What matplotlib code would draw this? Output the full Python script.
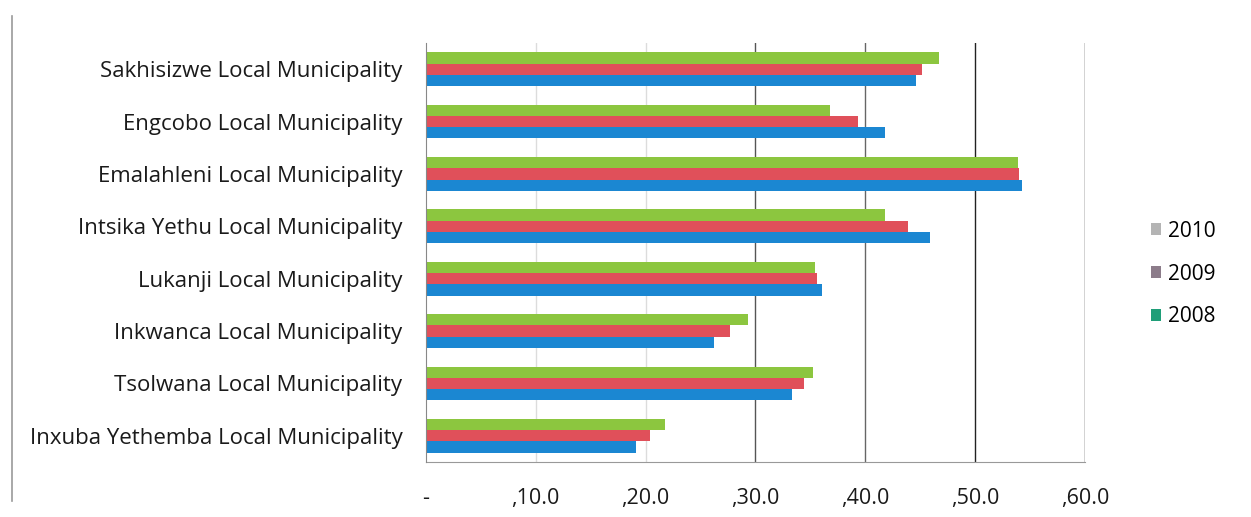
import matplotlib
matplotlib.use("Agg")
import matplotlib.pyplot as plt
from matplotlib.patches import Patch
from matplotlib.lines import Line2D
import numpy as np

municipalities = [
    "Sakhisizwe Local Municipality",
    "Engcobo Local Municipality",
    "Emalahleni Local Municipality",
    "Intsika Yethu Local Municipality",
    "Lukanji Local Municipality",
    "Inkwanca Local Municipality",
    "Tsolwana Local Municipality",
    "Inxuba Yethemba Local Municipality",
]
values_2010 = [46.7, 36.8, 53.9, 41.8, 35.4, 29.3, 35.2, 21.8]
values_2009 = [45.2, 39.3, 54.0, 43.9, 35.6, 27.7, 34.4, 20.4]
values_2008 = [44.6, 41.8, 54.3, 45.9, 36.1, 26.2, 33.3, 19.1]
series_names = ["2010", "2009", "2008"]
tick_values = [0, 10, 20, 30, 40, 50, 60]
tick_labels = ["-", ",10.0", ",20.0", ",30.0", ",40.0", ",50.0", ",60.0"]

bar_colors = ["#8cc63f", "#e0505a", "#1b87d2"]
legend_colors = ["#b4b4b4", "#8c7c8a", "#1f9e78"]

plt.rcParams["font.family"] = ["Open Sans", "DejaVu Sans"]

fig = plt.figure(figsize=(12.51, 5.17), dpi=100)
ax = fig.add_axes([0.3405, 0.1064, 0.5268, 0.8104])

n = len(municipalities)
y = np.arange(n)
h = 0.215
series = [values_2010, values_2009, values_2008]
for i, (vals, col) in enumerate(zip(series, bar_colors)):
    ax.barh(y + (i - 1) * h, vals, height=h, color=col, zorder=3)

ax.set_ylim(n - 0.5, -0.5)
ax.set_xlim(0, 60)
ax.set_yticks(y)
ax.set_yticklabels(municipalities, fontsize=16, color="#1a1a1a")
ax.set_xticks(tick_values)
ax.set_xticklabels(tick_labels, fontsize=15.5, color="#1a1a1a")
ax.tick_params(axis="y", length=0, pad=17)
ax.tick_params(axis="x", length=0, pad=19)

grid_colors = {10: "#dcdcdc", 20: "#dcdcdc", 30: "#555555",
               40: "#666666", 50: "#222222", 60: "#222222"}
for v, c in grid_colors.items():
    ax.axvline(v, color=c, linewidth=1.0, zorder=1)

for side in ("top", "right"):
    ax.spines[side].set_visible(False)
ax.spines["left"].set_color("#888888")
ax.spines["bottom"].set_color("#999999")
ax.spines["left"].set_zorder(4)

handles = [Patch(facecolor=c, edgecolor="none") for c in legend_colors]
leg = fig.legend(handles, series_names, loc="center left",
                 bbox_to_anchor=(0.905, 0.47), frameon=False,
                 fontsize=15, handlelength=0.5, handleheight=0.5,
                 handletextpad=0.3, labelspacing=1.05)

# outer frame line on the left of the chart area
fig.add_artist(Line2D([0.0096, 0.0096], [0.03, 0.97], color="#9a9a9a",
                      linewidth=1.2, transform=fig.transFigure))

fig.savefig("out.png", dpi=100)
